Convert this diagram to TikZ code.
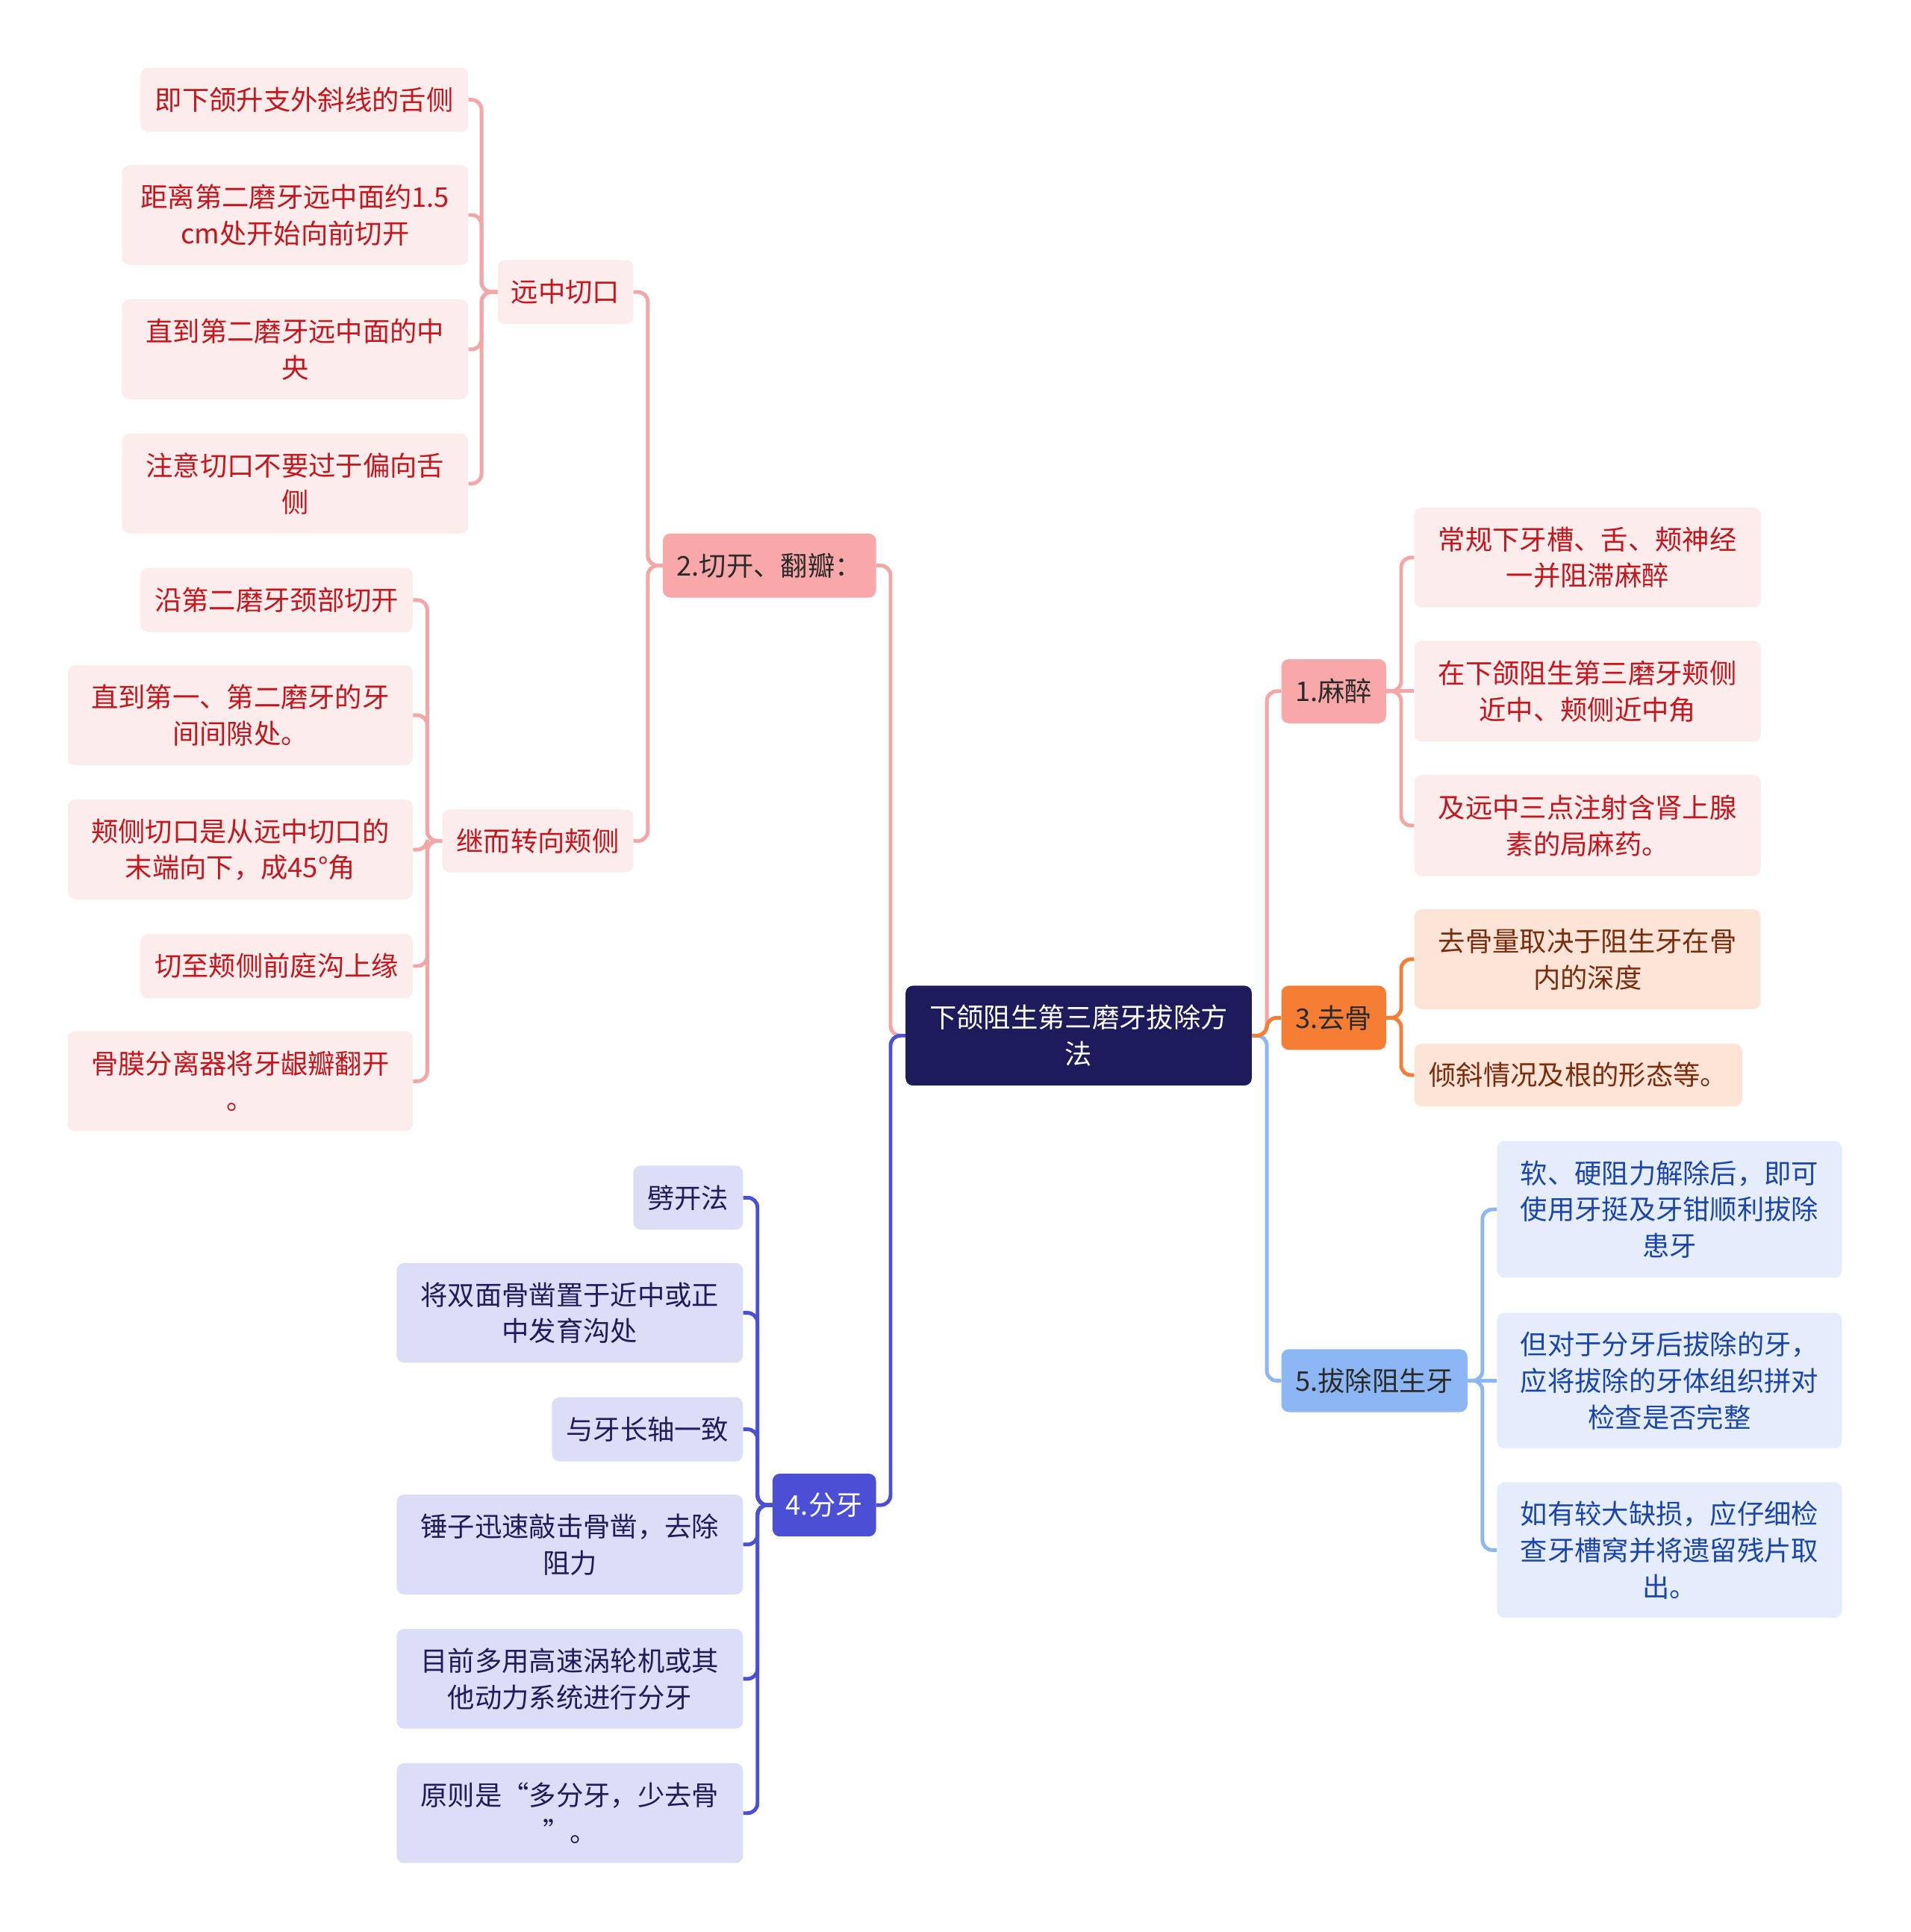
\documentclass[tikz,border=0pt]{standalone}
\usepackage{fontspec}
\newfontfamily\cjk{Noto Sans CJK SC}
\definecolor{rootfill}{HTML}{1D1B5C}
\definecolor{pinkbr}{HTML}{F8A8A8}
\definecolor{pinkleaf}{HTML}{FDECEC}
\definecolor{pinktext}{HTML}{C4161C}
\definecolor{pinkline}{HTML}{F4A6A6}
\definecolor{orangebr}{HTML}{F67D34}
\definecolor{orangeleaf}{HTML}{FDE4D6}
\definecolor{orangetext}{HTML}{7A2C0C}
\definecolor{violetbr}{HTML}{4A4FD6}
\definecolor{violetleaf}{HTML}{DCDDF7}
\definecolor{violettext}{HTML}{1E1C5C}
\definecolor{bluebr}{HTML}{8DB6F4}
\definecolor{blueleaf}{HTML}{E5EDFC}
\definecolor{bluetext}{HTML}{1B45AA}
\definecolor{darktext}{HTML}{2A2A2A}
\tikzset{
  box/.style={rounded corners=6pt, inner sep=0pt, align=center,
    font=\cjk\fontsize{22}{29.5}\selectfont},
  root/.style={box, fill=rootfill, text=white},
  pbr/.style={box, fill=pinkbr, text=darktext},
  pleaf/.style={box, fill=pinkleaf, text=pinktext},
  obr/.style={box, fill=orangebr, text=darktext},
  oleaf/.style={box, fill=orangeleaf, text=orangetext},
  vbr/.style={box, fill=violetbr, text=white},
  vleaf/.style={box, fill=violetleaf, text=violettext},
  bbr/.style={box, fill=bluebr, text=darktext},
  bleaf/.style={box, fill=blueleaf, text=bluetext},
  conn/.style={line width=3pt, rounded corners=8pt},
}
\begin{document}
\begin{tikzpicture}[x=1pt,y=-1pt]
\useasboundingbox (0,0) rectangle (1551,1568);
% root
\node[root, minimum width=281, minimum height=81] (root) at (875.5,840.5) {下颌阻生第三磨牙拔除方\\法};
% right side
\node[pbr, minimum width=85, minimum height=52] (n1) at (1082.5,561) {1.麻醉};
\node[pleaf, minimum width=281, minimum height=81] (n1a) at (1288.5,452.5) {常规下牙槽、舌、颊神经\\一并阻滞麻醉};
\node[pleaf, minimum width=281, minimum height=82] (n1b) at (1288.5,561) {在下颌阻生第三磨牙颊侧\\近中、颊侧近中角};
\node[pleaf, minimum width=281, minimum height=82] (n1c) at (1288.5,670) {及远中三点注射含肾上腺\\素的局麻药。};
\node[obr, minimum width=85, minimum height=52] (n3) at (1082.5,826) {3.去骨};
\node[oleaf, minimum width=281, minimum height=81] (n3a) at (1288.5,778.5) {去骨量取决于阻生牙在骨\\内的深度};
\node[oleaf, minimum width=266, minimum height=51] (n3b) at (1281,872.5) {倾斜情况及根的形态等。};
\node[bbr, minimum width=151, minimum height=51] (n5) at (1115.5,1120.5) {5.拔除阻生牙};
\node[bleaf, minimum width=280, minimum height=111] (n5a) at (1355,981.5) {软、硬阻力解除后，即可\\使用牙挺及牙钳顺利拔除\\患牙};
\node[bleaf, minimum width=280, minimum height=110] (n5b) at (1355,1120.5) {但对于分牙后拔除的牙，\\应将拔除的牙体组织拼对\\检查是否完整};
\node[bleaf, minimum width=280, minimum height=110] (n5c) at (1355,1258) {如有较大缺损，应仔细检\\查牙槽窝并将遗留残片取\\出。};
% left side
\node[pbr, minimum width=173, minimum height=52] (n2) at (624.5,459) {2.切开、翻瓣：};
\node[pleaf, minimum width=110, minimum height=52] (n2a) at (459,237) {远中切口};
\node[pleaf, minimum width=266, minimum height=52] (n2a1) at (247,81) {即下颌升支外斜线的舌侧};
\node[pleaf, minimum width=281, minimum height=81] (n2a2) at (239.5,174.5) {距离第二磨牙远中面约1.5\\cm处开始向前切开};
\node[pleaf, minimum width=281, minimum height=81] (n2a3) at (239.5,283.5) {直到第二磨牙远中面的中\\央};
\node[pleaf, minimum width=281, minimum height=81] (n2a4) at (239.5,392.5) {注意切口不要过于偏向舌\\侧};
\node[pleaf, minimum width=155, minimum height=51] (n2b) at (436.5,682.5) {继而转向颊侧};
\node[pleaf, minimum width=221, minimum height=52] (n2b1) at (224.5,487) {沿第二磨牙颈部切开};
\node[pleaf, minimum width=280, minimum height=81] (n2b2) at (195,580.5) {直到第一、第二磨牙的牙\\间间隙处。};
\node[pleaf, minimum width=280, minimum height=81] (n2b3) at (195,689.5) {颊侧切口是从远中切口的\\末端向下，成45°角};
\node[pleaf, minimum width=221, minimum height=52] (n2b4) at (224.5,784) {切至颊侧前庭沟上缘};
\node[pleaf, minimum width=280, minimum height=81] (n2b5) at (195,877.5) {骨膜分离器将牙龈瓣翻开\\。};
\node[vbr, minimum width=84, minimum height=51] (n4) at (669,1221.5) {4.分牙};
\node[vleaf, minimum width=89, minimum height=52] (n4a) at (558.5,972) {劈开法};
\node[vleaf, minimum width=281, minimum height=81] (n4b) at (462.5,1065.5) {将双面骨凿置于近中或正\\中发育沟处};
\node[vleaf, minimum width=155, minimum height=52] (n4c) at (525.5,1160) {与牙长轴一致};
\node[vleaf, minimum width=281, minimum height=81] (n4d) at (462.5,1253.5) {锤子迅速敲击骨凿，去除\\阻力};
\node[vleaf, minimum width=281, minimum height=81] (n4e) at (462.5,1362.5) {目前多用高速涡轮机或其\\他动力系统进行分牙};
\node[vleaf, minimum width=281, minimum height=81] (n4f) at (462.5,1471.5) {原则是“多分牙，少去骨\\”。};
% connectors
\draw[conn, pinkline] (root.west) -- ++(-12,0) |- (n2.east);
\draw[conn, violetbr] (root.west) -- ++(-12,0) |- (n4.east);
\draw[conn, pinkline] (root.east) -- ++(12,0) |- (n1.west);
\draw[conn, bluebr] (root.east) -- ++(12,0) |- (n5.west);
\draw[conn, orangebr] (root.east) -- ++(12,0) |- (n3.west);
\foreach \c in {n1a,n1c} \draw[conn, pinkline] (n1.east) -- ++(12,0) |- (\c.west);
\draw[conn, pinkline] (n1.east) -- (n1b.west);
\foreach \c in {n3a,n3b} \draw[conn, orangebr] (n3.east) -- ++(12,0) |- (\c.west);
\foreach \c in {n5a,n5c} \draw[conn, bluebr] (n5.east) -- ++(12,0) |- (\c.west);
\draw[conn, bluebr] (n5.east) -- (n5b.west);
\foreach \c in {n2a,n2b} \draw[conn, pinkline] (n2.west) -- ++(-12,0) |- (\c.east);
\foreach \c in {n2a1,n2a2,n2a3,n2a4} \draw[conn, pinkline] (n2a.west) -- ++(-13,0) |- (\c.east);
\foreach \c in {n2b1,n2b2,n2b3,n2b4,n2b5} \draw[conn, pinkline] (n2b.west) -- ++(-12,0) |- (\c.east);
\foreach \c in {n4a,n4b,n4c,n4d,n4e,n4f} \draw[conn, violetbr] (n4.west) -- ++(-12,0) |- (\c.east);
\end{tikzpicture}
\end{document}
